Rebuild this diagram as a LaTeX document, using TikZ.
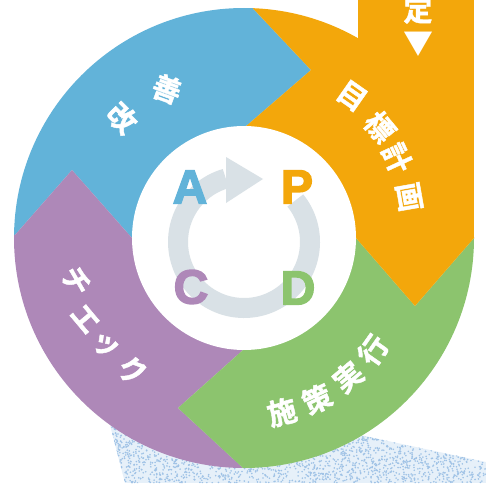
\documentclass[tikz,border=0pt]{standalone}
\usepackage{fontspec}
\newfontfamily\jpfont{Noto Sans CJK JP}[BoldFont={Noto Sans CJK JP Bold},BoldFeatures={FakeBold=1.5}]
\newfontfamily\letterfont{Liberation Sans}[BoldFeatures={FakeBold=3}]
\definecolor{segblue}{HTML}{62B3D9}
\definecolor{segorange}{HTML}{F3A70B}
\definecolor{seggreen}{HTML}{8CC46E}
\definecolor{segpurple}{HTML}{AE88B8}
\definecolor{ringgrey}{HTML}{D9E1E6}
\definecolor{speckbase}{HTML}{E6F0F9}
\definecolor{speckdot}{HTML}{9FC2E6}
\tikzset{
  x=1pt,y=1pt,
  jptext/.style={text=white,font=\jpfont\bfseries\fontsize{29}{29}\selectfont,inner sep=0pt},
  caplabel/.style={font=\letterfont\bfseries\fontsize{48}{48}\selectfont,inner sep=0pt}
}
\begin{document}
\begin{tikzpicture}
\useasboundingbox (0,0) rectangle (486,483);
\clip (0,0) rectangle (486,483);
% speckled ground
\begin{scope}
  \clip (110,58) -- (125,0) -- (486,0) -- (486,21) -- (360,48) -- cycle;
  \fill[speckbase] (100,0) rectangle (486,60);
  \pgfmathsetseed{42}
  \foreach \i in {1,...,2600}{
    \pgfmathsetmacro{\px}{100+rnd*386}
    \pgfmathsetmacro{\py}{rnd*60}
    \fill[speckdot] (\px,\py) circle (0.9);
  }
\end{scope}
% coloured ring
\begin{scope}
  \clip (244,245) circle (230);
  \fill[segblue] (245,483) -- (311,413) -- (245,356) -- (132,245) -- (72,313) -- (15,248) -- (0,248) -- (0,483) -- cycle;
  \fill[segpurple] (132,245) -- (72,313) -- (15,248) -- (0,248) -- (0,0) -- (243,0) -- (243,15) -- (178,75) -- (243,133) -- cycle;
  \fill[seggreen] (356,245) -- (415,177) -- (474,245) -- (486,245) -- (486,0) -- (243,0) -- (243,15) -- (178,75) -- (243,133) -- cycle;
  \fill[segorange] (245,483) -- (311,413) -- (245,356) -- (356,245) -- (415,177) -- (474,245) -- (486,245) -- (486,483) -- cycle;
\end{scope}
\fill[segorange] (358,245) rectangle (474,483);
\fill[white] (244,245) circle (112);
% cycle arrow
\draw[ringgrey,line width=20pt] (244,241) ++(39:66) arc[start angle=39,end angle=-254,radius=66];
\fill[ringgrey] (226,326) -- (263,304) -- (226,280) -- cycle;
% PDCA letters
\node[caplabel,text=segblue] (lA) at (190,296) {A};
\node[caplabel,text=segorange] (lP) at (297,296) {P};
\node[caplabel,text=segpurple] (lC) at (191,196) {C};
\node[caplabel,text=seggreen] (lD) at (298,195) {D};
% ring captions
\node[jptext,rotate=-45] (kai) at (122,365) {改};
\node[jptext,rotate=-20] (zen) at (167,394) {善};
\node[jptext,rotate=-35] (t1) at (352,387) {目};
\node[jptext,rotate=-50] (t2) at (380,356) {標};
\node[jptext,rotate=-65] (t3) at (397,325) {計};
\node[jptext,rotate=-80] (t4) at (409,286) {画};
\node[jptext,rotate=15] (s1) at (282,71) {施};
\node[jptext,rotate=25] (s2) at (317,84) {策};
\node[jptext,rotate=40] (s3) at (348,106) {実};
\node[jptext,rotate=55] (s4) at (373,133) {行};
\node[jptext,rotate=-60] (c1) at (76,202) {チ};
\node[jptext,rotate=-50] (c2) at (85,164) {エ};
\node[jptext,rotate=-30] (c3) at (105,137) {ッ};
\node[jptext,rotate=-20] (c4) at (133,113) {ク};
\node[jptext] (tei) at (418,473) {定};
\node[jptext,font=\jpfont\fontsize{30}{30}\selectfont] (tri) at (418,439) {▼};
\end{tikzpicture}
\end{document}
